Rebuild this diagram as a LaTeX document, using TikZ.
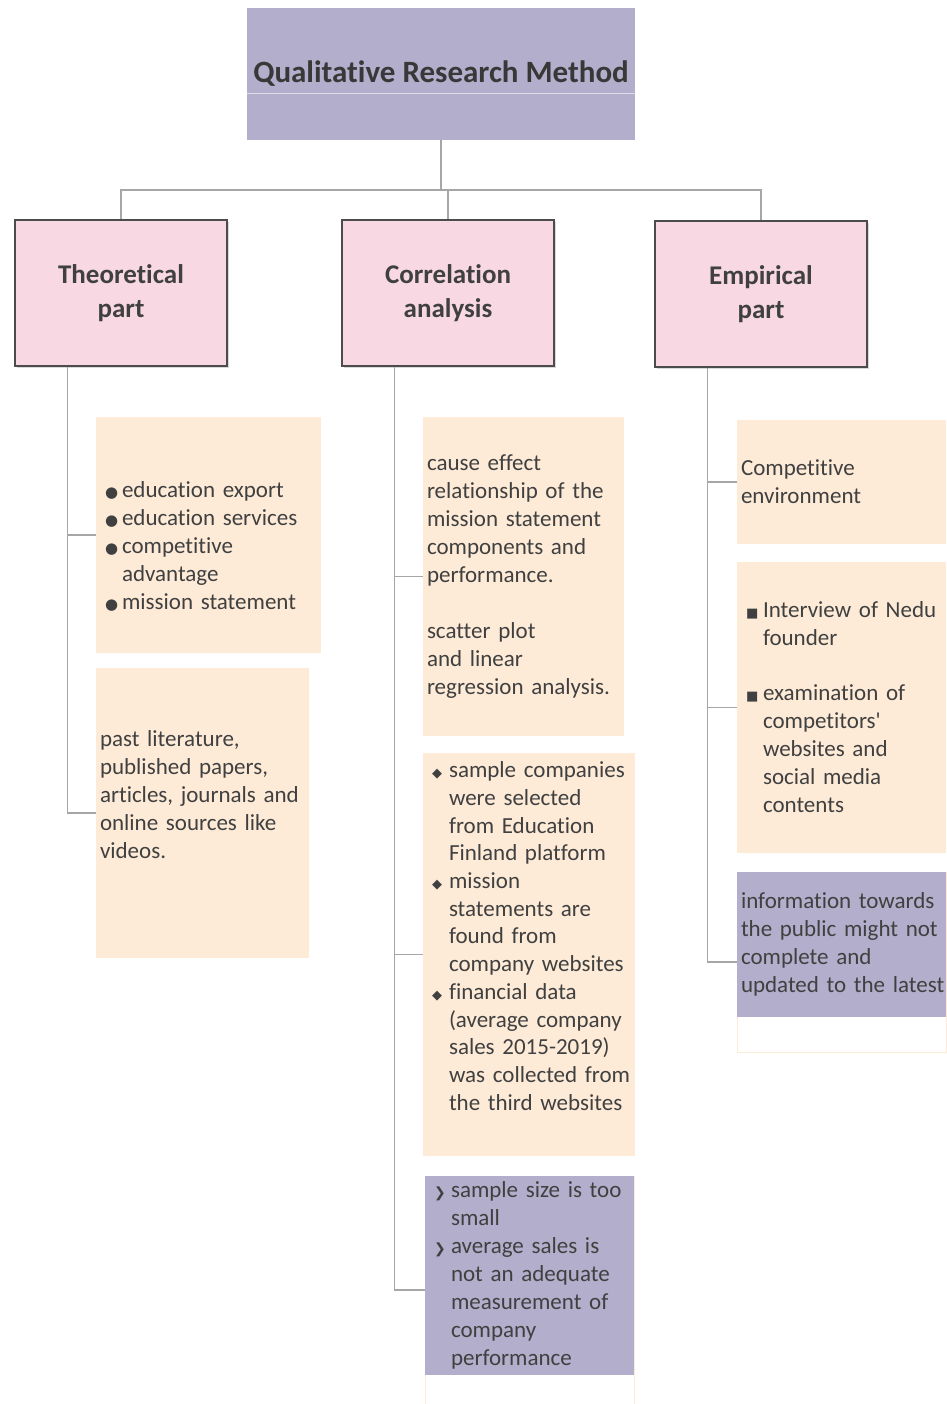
\documentclass[tikz,border=0pt]{standalone}
\usepackage{fontspec}
\setmainfont{Carlito}[Ligatures={TeXOff,NoCommon,NoContextual}]
\newfontfamily\symfont{DejaVu Sans}
\usetikzlibrary{shadows}
\definecolor{lav}{HTML}{B2AECB}
\definecolor{pinkbox}{HTML}{F8D9E3}
\definecolor{peach}{HTML}{FDEBD8}
\definecolor{ink}{HTML}{404040}
\definecolor{linkgray}{HTML}{A6A6A6}
\newcommand\bul[2][15]{\hspace*{5pt}\makebox[17pt][l]{\symfont\fontsize{#1}{#1}\selectfont #2}}
\newcommand\ind{\hspace*{22pt}}
\newcommand\tie{t\kern0pt i}
\begin{document}
\begin{tikzpicture}[x=1pt, y=-1pt,
  link/.style={draw=linkgray, line width=1.2pt},
  head/.style={fill=lav, text=black!78, font=\bfseries\fontsize{31}{37}\selectfont,
    minimum width=388pt, minimum height=132pt, inner sep=0pt},
  part/.style={fill=pinkbox, draw=black!70, line width=1.2pt, text=black!75,
    font=\bfseries\fontsize{27}{34}\selectfont, align=center, minimum width=212pt,
    minimum height=146pt, inner sep=0pt,
    drop shadow={shadow xshift=2pt, shadow yshift=-2pt, opacity=0.3}},
  leaf/.style={fill=peach, text=ink, font=\fontsize{23}{28}\selectfont, align=left,
    inner xsep=4pt, inner ysep=0pt},
  weak/.style={leaf, fill=lav},
  tail/.style={fill=white, draw=peach, line width=1pt, inner sep=0pt}]
  \useasboundingbox (0,0) rectangle (946,1404);

  % top level
  \node[head] (top) at (441,74) {Qualitative Research Method};
  \draw[lav!45!white, line width=0.8pt] (top.west |- 0,93) -- (top.east |- 0,93);
  \node[part] (theo) at (121,293) {Theoretical\\part};
  \node[part] (corr) at (448,293) {Correlation\\analysis};
  \node[part] (emp) at (761,294) {Empirical\\part};

  % theoretical part
  \node[leaf, text width=217pt, minimum height=236pt] (t1) at (208.5,535)
    {\rule{0pt}{39pt}\bul{●}education export\\\bul{●}education services\\\bul{●}compe\tie\tie ve\\\ind advantage\\\bul{●}mission statement};
  \node[leaf, text width=205pt, minimum height=290pt] (t2) at (202.5,813)
    {past literature,\\published papers,\\articles, journals and\\online sources like\\videos.\rule[-37pt]{0pt}{0pt}};

  % correlation analysis
  \node[leaf, text width=193pt, minimum height=319pt] (c1) at (523.5,576.5)
    {cause effect\\relationship of the\\mission statement\\components and\\performance.\\[28pt]scatter plot\\and linear\\regression analysis.};
  \node[leaf, font=\fontsize{23}{27.7}\selectfont, text width=204pt, minimum height=403pt] (c2) at (529,954.5)
    {\bul[13]{◆}sample companies\\\ind were selected\\\ind from Education\\\ind Finland platform\\
     \bul[13]{◆}mission\\\ind statements are\\\ind found from\\\ind company websites\\
     \bul[13]{◆}financial data\\\ind (average company\\\ind sales 2015-2019)\\\ind was collected from\\\ind the third websites\rule[-37pt]{0pt}{0pt}};
  \node[tail, minimum width=209pt, minimum height=228pt] (c3) at (529.5,1290) {};
  \node[weak, anchor=north, text width=201pt, minimum height=199pt] (c3txt) at (c3.north)
    {\bul[14]{❯}sample size is too\\\ind small\\\bul[14]{❯}average sales is\\\ind not an adequate\\\ind measurement of\\\ind company\\\ind performance};

  % empirical part
  \node[leaf, text width=201pt, minimum height=124pt] (e1) at (841.5,482)
    {Compe\tie\tie ve\\environment};
  \node[leaf, text width=201pt, minimum height=291pt] (e2) at (841.5,707.5)
    {\bul[13]{■}Interview of Nedu\\\ind founder\\[27pt]\bul[13]{■}examination of\\\ind competitors'\\\ind websites and\\\ind social media\\\ind contents};
  \node[tail, minimum width=209pt, minimum height=180pt] (e3) at (841.5,962) {};
  \node[weak, anchor=north, text width=201pt, minimum height=145pt] (e3txt) at (e3.north)
    {information towards\\the public might not\\complete and\\\mbox{updated to the latest}};

  % connectors
  \coordinate (bus) at (441,190);
  \draw[link] (top.south) -- (bus);
  \foreach \n in {theo,corr,emp}
    \draw[link] (bus) -| (\n.north);
  \foreach \p/\c in {theo/t1, theo/t2, corr/c1, corr/c2, corr/c3, emp/e1, emp/e2, emp/e3}
    \draw[link] ([xshift=53pt]\p.south west) |- (\c.west);
\end{tikzpicture}
\end{document}
